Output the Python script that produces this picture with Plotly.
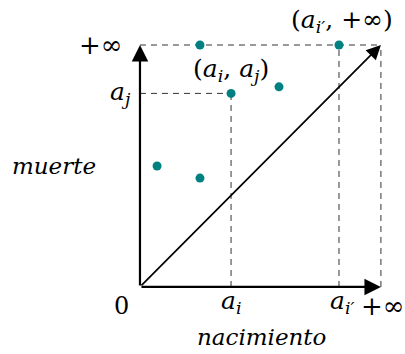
import plotly.graph_objects as go

# escala: "+infinito" se dibuja en 10
INF = 10
a_i = 3.78
a_j = 8.0
a_ip = 8.26

# puntos del diagrama de persistencia
pts_x = [2.49, a_ip, a_i, 5.77, 0.71, 2.49]
pts_y = [INF, INF, a_j, 8.27, 5.0, 4.5]

FONT = "DejaVu Serif, serif"
DASH = dict(color="#333", width=1, dash="6px,5px")

fig = go.Figure()

# lineas punteadas de referencia
dashed = [
    ([0, INF], [INF, INF]),
    ([0, a_i], [a_j, a_j]),
    ([a_i, a_i], [0, a_j]),
    ([a_ip, a_ip], [0, INF]),
    ([INF, INF], [0, INF]),
]
for xs, ys in dashed:
    fig.add_trace(go.Scatter(x=xs, y=ys, mode="lines", line=DASH,
                             hoverinfo="skip", showlegend=False))

fig.add_trace(go.Scatter(x=pts_x, y=pts_y, mode="markers",
                         marker=dict(color="#008080", size=9),
                         hoverinfo="skip", showlegend=False))

# ejes y diagonal con flecha
arrows = [((0, 0), (0, INF), 2.2, 1.5), ((0, 0), (INF, 0), 2.2, 1.5),
          ((0, 0), (INF, INF), 1.7, 1.7)]
for (x0, y0), (x1, y1), w, s in arrows:
    fig.add_annotation(x=x1, y=y1, ax=x0, ay=y0, xref="x", yref="y",
                       axref="x", ayref="y", text="", showarrow=True,
                       arrowhead=2, arrowsize=s, arrowwidth=w,
                       arrowcolor="black", standoff=0)

labels = [
    (-0.65, INF, "+∞", "right", 26),
    (-0.3, a_j, "<i>a<sub>j</sub></i>", "right", 25),
    (-3.57, 5.0, "<i>muerte</i>", "center", 23),
    (-0.75, -0.8, "0", "center", 24),
    (a_i, -0.62, "<i>a<sub>i</sub></i>", "center", 25),
    (a_ip + 0.15, -0.62, "<i>a<sub>i′</sub></i>", "center", 25),
    (10.05, -0.8, "+∞", "center", 26),
    (5.06, -2.07, "<i>nacimiento</i>", "center", 23),
    (a_i, 8.97, "(<i>a<sub>i</sub></i>, <i>a<sub>j</sub></i>)", "center", 25),
    (8.4, 11.0, "(<i>a<sub>i′</sub></i>, +∞)", "center", 25),
]
for x, y, t, anc, sz in labels:
    fig.add_annotation(x=x, y=y, text=t, showarrow=False, xanchor=anc,
                       yanchor="middle", font=dict(family=FONT, size=sz, color="black"))

fig.update_layout(
    width=405, height=354,
    margin=dict(l=0, r=0, t=0, b=0),
    plot_bgcolor="white", paper_bgcolor="white",
    xaxis=dict(range=[-5.81, 11.0], visible=False),
    yaxis=dict(range=[-2.77, 11.86], visible=False),
)

fig.write_html("out.html", config={"displayModeBar": False},
               post_script="document.body.style.margin='0';")
